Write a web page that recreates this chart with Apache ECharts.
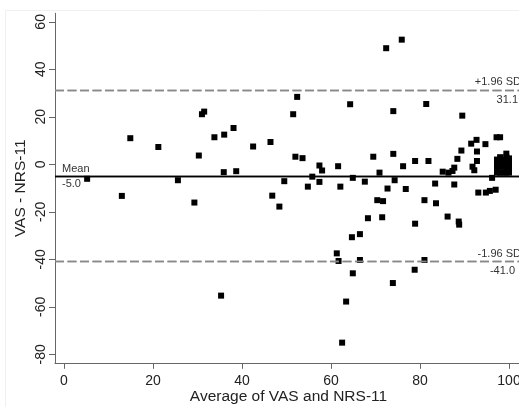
<!DOCTYPE html>
<html>
<head>
<meta charset="utf-8">
<script src="https://cdn.jsdelivr.net/npm/echarts@6/dist/echarts.min.js"></script>
<style>
html,body{margin:0;padding:0;background:#fff;}
#chart{width:519px;height:407px;}
</style>
</head>
<body>
<div id="chart"></div>
<script>
// Average of VAS and NRS-11 (x) and difference VAS - NRS-11 (y)
const avgScores = [
  5.2, 13.0, 14.9, 21.2, 25.6, 29.3, 30.3, 31.0, 31.5, 33.8,
  35.3, 35.9, 36.0, 38.1, 38.7, 42.5, 46.4, 46.8, 48.4, 49.5,
  51.5, 52.0, 52.4, 53.6, 54.8, 55.8, 57.4, 57.4, 58.0, 61.3,
  61.6, 61.7, 62.1, 62.5, 63.4, 64.3, 64.7, 64.9, 64.9, 66.5,
  66.5, 67.6, 68.3, 69.5, 70.4, 70.9, 71.5, 71.7, 72.4, 72.7,
  73.9, 74.0, 74.0, 74.3, 75.9, 76.2, 76.8, 78.8, 78.9, 78.9,
  81.0, 81.0, 81.4, 81.9, 83.4, 83.6, 85.1, 86.2, 86.4, 87.3,
  87.7, 87.7, 88.4, 88.7, 88.8, 89.3, 89.5, 91.5, 91.8, 92.2,
  92.7, 92.8, 92.8, 93.1, 94.7, 94.8, 95.7, 96.2, 97.0, 97.2,
  98.0,
  97.3, 97.3, 97.3, 97.3,
  98.0, 98.0, 98.0, 98.0,
  98.7, 98.7, 98.7, 98.7,
  99.4, 99.4, 99.4, 99.4, 99.4, 99.4,
  100.0, 100.0, 100.0, 100.0, 100.0
];
const differences = [
  -6.1, -13.3, 11.0, 7.3, -6.7, -16.1, 3.7, 21.1, 22.2, 11.4,
  -55.3, -3.3, 12.5, 15.3, -2.9, 7.5, 9.4, -13.2, -17.8, -7.1,
  21.1, 3.2, 28.4, 2.6, -9.4, -5.2, -0.5, -7.4, -2.6, -37.5,
  -0.8, -40.7, -9.4, -75.1, -57.8, 25.3, -30.7, -5.7, -45.9, -29.4,
  -40.3, -7.3, -22.7, 3.2, -15.1, -3.5, -22.3, -15.5, 48.9, -10.2,
  -50.0, 22.4, 4.4, -6.7, 52.5, -0.8, -10.4, -44.4, 1.4, -25.0,
  -15.1, -40.3, 25.4, 1.4, -8.1, -16.4, -3.1, -22.0, -3.5, -2.8,
  -1.4, -8.5, 2.3, -24.1, -25.4, 5.8, 20.5, 8.7, -1.0, -2.5,
  10.3, 5.4, 1.4, -11.9, 8.5, -11.9, -11.2, -5.7, -10.7, 11.4,
  11.4,
  2.0, 0.0, -2.0, -3.5,
  3.0, 1.0, -1.0, -3.5,
  2.0, 0.5, -1.0, -3.5,
  4.5, 3.0, 1.0, -0.5, -2.0, -3.5,
  2.5, 1.0, -1.0, -2.5, -3.5
];
const meanDiff = -5.0;
const upperLimit = 31.1;
const lowerLimit = -41.0;
const xTicks = [0, 20, 40, 60, 80, 100];
const yTicks = [-80, -60, -40, -20, 0, 20, 40, 60];

const points = avgScores.map((x, i) => [x, differences[i]]);

const FONT = '"Liberation Sans", Arial, Helvetica, sans-serif';
const chart = echarts.init(document.getElementById('chart'), null, {renderer: 'canvas'});

const lblStyle = {fontFamily: FONT, fontSize: 11, color: '#333'};

chart.setOption({
  animation: false,
  backgroundColor: '#fff',
  graphic: [{
    type: 'rect', z: -10, silent: true,
    shape: {x: 5.5, y: 10.5, width: 600, height: 600},
    style: {fill: 'none', stroke: '#f0f0f0', lineWidth: 1}
  }],
  grid: {left: 55, right: -3, top: 13.3, bottom: 43.7, containLabel: false, outerBoundsMode: 'none'},
  xAxis: {
    type: 'value',
    min: -2.02, max: 102.92,
    name: 'Average of VAS and NRS-11',
    nameLocation: 'middle',
    nameGap: 25,
    nameMoveOverlap: false,
    nameTextStyle: {fontFamily: FONT, fontSize: 15.5, color: '#222'},
    axisLine: {show: true, onZero: false, lineStyle: {color: '#666', width: 1}},
    axisTick: {show: true, length: 5.5, customValues: xTicks, lineStyle: {color: '#666'}},
    axisLabel: {customValues: xTicks, fontFamily: FONT, fontSize: 14, color: '#222', margin: 11},
    splitLine: {show: false}
  },
  yAxis: {
    type: 'value',
    min: -83.8, max: 63.6,
    name: 'VAS - NRS-11',
    nameLocation: 'middle',
    nameGap: 26,
    nameMoveOverlap: false,
    nameTextStyle: {fontFamily: FONT, fontSize: 15.5, color: '#222'},
    axisLine: {show: true, onZero: false, lineStyle: {color: '#666', width: 1}},
    axisTick: {show: true, length: 6, customValues: yTicks, lineStyle: {color: '#666'}},
    axisLabel: {customValues: yTicks, rotate: 90, fontFamily: FONT, fontSize: 14, color: '#222', margin: 7},
    splitLine: {show: false}
  },
  series: [{
    type: 'scatter',
    data: points,
    symbol: 'rect',
    symbolSize: 6,
    itemStyle: {color: '#000', opacity: 1},
    markLine: {
      silent: true,
      symbol: ['none', 'none'],
      animation: false,
      data: [
        {yAxis: meanDiff, lineStyle: {color: '#000', width: 1.3, type: 'solid'},
          label: Object.assign({formatter: 'Mean', position: 'insideStartTop', distance: [7, 2]}, lblStyle)},
        {yAxis: meanDiff, lineStyle: {color: '#000', width: 1.3, type: 'solid'},
          label: Object.assign({formatter: meanDiff.toFixed(1), position: 'insideStartBottom', distance: [7, 2]}, lblStyle)},
        {yAxis: upperLimit, lineStyle: {color: '#888', width: 1.3, type: [9, 3.5]},
          label: Object.assign({formatter: '+1.96 SD', position: 'insideEndTop', distance: [1, 3]}, lblStyle)},
        {yAxis: upperLimit, lineStyle: {color: '#888', width: 1.3, type: [9, 3.5]},
          label: Object.assign({formatter: upperLimit.toFixed(1), position: 'insideEndBottom', distance: [4, 4]}, lblStyle)},
        {yAxis: lowerLimit, lineStyle: {color: '#888', width: 1.3, type: [9, 3.5]},
          label: Object.assign({formatter: '-1.96 SD', position: 'insideEndTop', distance: [1, 2]}, lblStyle)},
        {yAxis: lowerLimit, lineStyle: {color: '#888', width: 1.3, type: [9, 3.5]},
          label: Object.assign({formatter: lowerLimit.toFixed(1), position: 'insideEndBottom', distance: [7, 4]}, lblStyle)}
      ]
    }
  }]
});
</script>
</body>
</html>
